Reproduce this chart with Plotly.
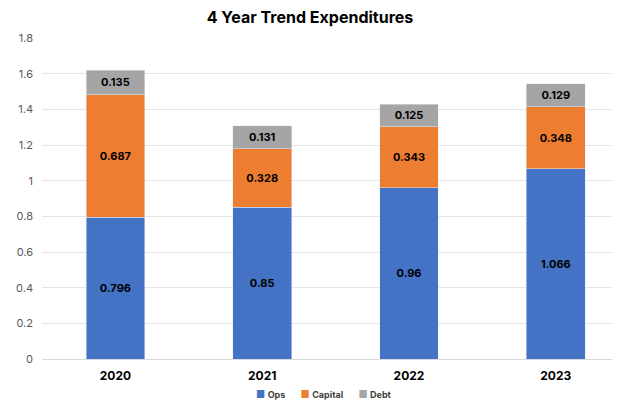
import plotly.graph_objects as go

years = ["2020", "2021", "2022", "2023"]
ops = [0.796, 0.85, 0.96, 1.066]
capital = [0.687, 0.328, 0.343, 0.348]
debt = [0.135, 0.131, 0.125, 0.129]
y_ticks = [0, 0.2, 0.4, 0.6, 0.8, 1, 1.2, 1.4, 1.6, 1.8]

series = [("Ops", ops, "#4472C4"), ("Capital", capital, "#ED7D31"), ("Debt", debt, "#A5A5A5")]

W, H = 630, 401
L, R, T, B = 34, 0, 30, 50

fig = go.Figure()
for name, vals, col in series:
    fig.add_trace(go.Bar(
        x=years, y=vals, name=name, marker_color=col, width=0.4,
        text=[str(v) for v in vals], textposition="inside", insidetextanchor="middle",
        textangle=0,
        textfont=dict(family="Inter", size=11, color="black", weight="bold"),
        hoverinfo="skip", showlegend=False,
    ))

NB = "\u00A0"
legend_text = (NB * 6).join(
    f"<span style='color:{col};font-size:10px'>■</span>{NB}<b>{name}</b>" for name, _, col in series
)
fig.add_annotation(
    text=legend_text, xref="paper", yref="paper",
    x=(316 - L) / (W - L - R), y=-0.108, xanchor="center", yanchor="middle",
    showarrow=False, font=dict(family="Inter", size=9, color="#404040"),
)

fig.update_layout(
    barmode="stack",
    width=W, height=H,
    margin=dict(l=L, r=R, t=T, b=B),
    paper_bgcolor="white", plot_bgcolor="white",
    title=dict(text="<b>4 Year Trend Expenditures</b>", x=(302) / W, xanchor="center", y=0.977, yanchor="middle",
               font=dict(family="Inter", size=16, color="black")),
    uniformtext=dict(mode=False),
    xaxis=dict(range=[-0.5, 3.56], showgrid=False, showline=True, linecolor="#D9D9D9",
               tickfont=dict(family="Inter", size=12, color="black", weight="bold"), ticks="",
               ticklabelstandoff=6),
    yaxis=dict(range=[0, 1.8], tickvals=y_ticks, ticktext=[f"{v:g}" for v in y_ticks],
               showgrid=True, gridcolor="#E5E5E5", zeroline=False,
               tickfont=dict(family="Inter", size=11, color="#595959"), ticks="", ticklabelstandoff=8),
)

fig.write_html("out.html")
